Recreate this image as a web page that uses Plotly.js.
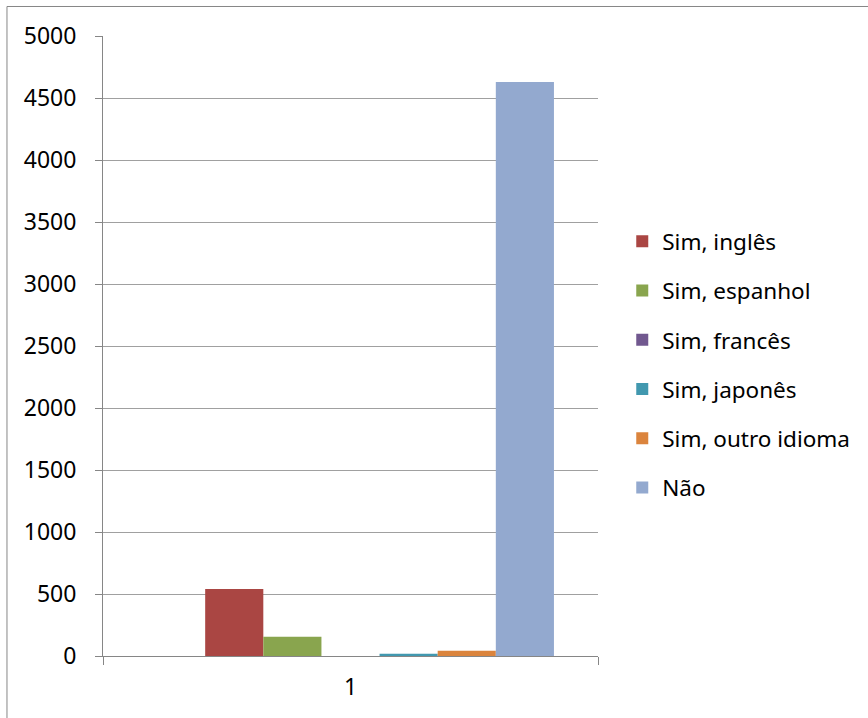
<!DOCTYPE html>
<html>
<head>
<meta charset="utf-8">
<script src="https://cdn.plot.ly/plotly-3.0.1.min.js"></script>
<style>html,body{margin:0;padding:0;background:#fff;}#chart{width:868px;height:718px;}</style>
</head>
<body>
<div id="chart"></div>
<script>
const categories = ["1"];
const seriesNames = ["", "Sim, inglês", "Sim, espanhol", "Sim, francês", "Sim, japonês", "Sim, outro idioma", "Não"];
const seriesValues = [[0], [540], [155], [0], [18], [43], [4630]];
const seriesColors = ["#4572A7", "#AA4643", "#89A54E", "#71588F", "#4198AF", "#DB843D", "#93A9CF"];
const yTicks = [0, 500, 1000, 1500, 2000, 2500, 3000, 3500, 4000, 4500, 5000];

const FONT = "Noto Sans, Open Sans, sans-serif";
const traces = seriesNames.map((n, i) => ({
  type: "bar",
  x: categories,
  y: seriesValues[i],
  name: n,
  legendgroup: "g" + i,
  showlegend: n !== "",
  marker: {color: seriesColors[i], line: {width: 0}},
  hoverinfo: "none"
}));

const layout = {
  width: 868, height: 718,
  margin: {l: 103, r: 270, t: 36, b: 62, pad: 0},
  paper_bgcolor: "#fff", plot_bgcolor: "#fff",
  font: {family: FONT, size: 23, color: "#000"},
  barmode: "group", bargap: 0.178, bargroupgap: 0,
  showlegend: true,
  legend: {x: 1.049, xanchor: "left", y: 0.47, yanchor: "middle",
           font: {family: FONT, size: 22.5, color: "#000"},
           tracegroupgap: 17, traceorder: "grouped", bgcolor: "rgba(0,0,0,0)"},
  xaxis: {type: "category", range: [-0.5, 0.5], showgrid: false,
          showline: true, linecolor: "#868686", linewidth: 1,
          ticks: "outside", tickson: "boundaries", ticklen: 8, tickcolor: "#868686",
          ticklabelstandoff: 10, fixedrange: true},
  yaxis: {range: [0, 5000], tickvals: yTicks, ticktext: yTicks.map(String),
          showgrid: true, gridcolor: "#a0a0a0", gridwidth: 1, zeroline: false,
          showline: true, linecolor: "#868686", linewidth: 1,
          ticks: "outside", ticklen: 7, tickcolor: "#868686",
          ticklabelstandoff: 14, fixedrange: true},
  shapes: [{type: "rect", xref: "paper", yref: "paper",
            x0: -0.194, x1: 1.8, y0: -0.3, y1: 1.0476,
            line: {color: "#868686", width: 1}, fillcolor: "rgba(0,0,0,0)", layer: "below"}]
};

Plotly.newPlot("chart", traces, layout, {staticPlot: true, displayModeBar: false});
</script>
</body>
</html>
